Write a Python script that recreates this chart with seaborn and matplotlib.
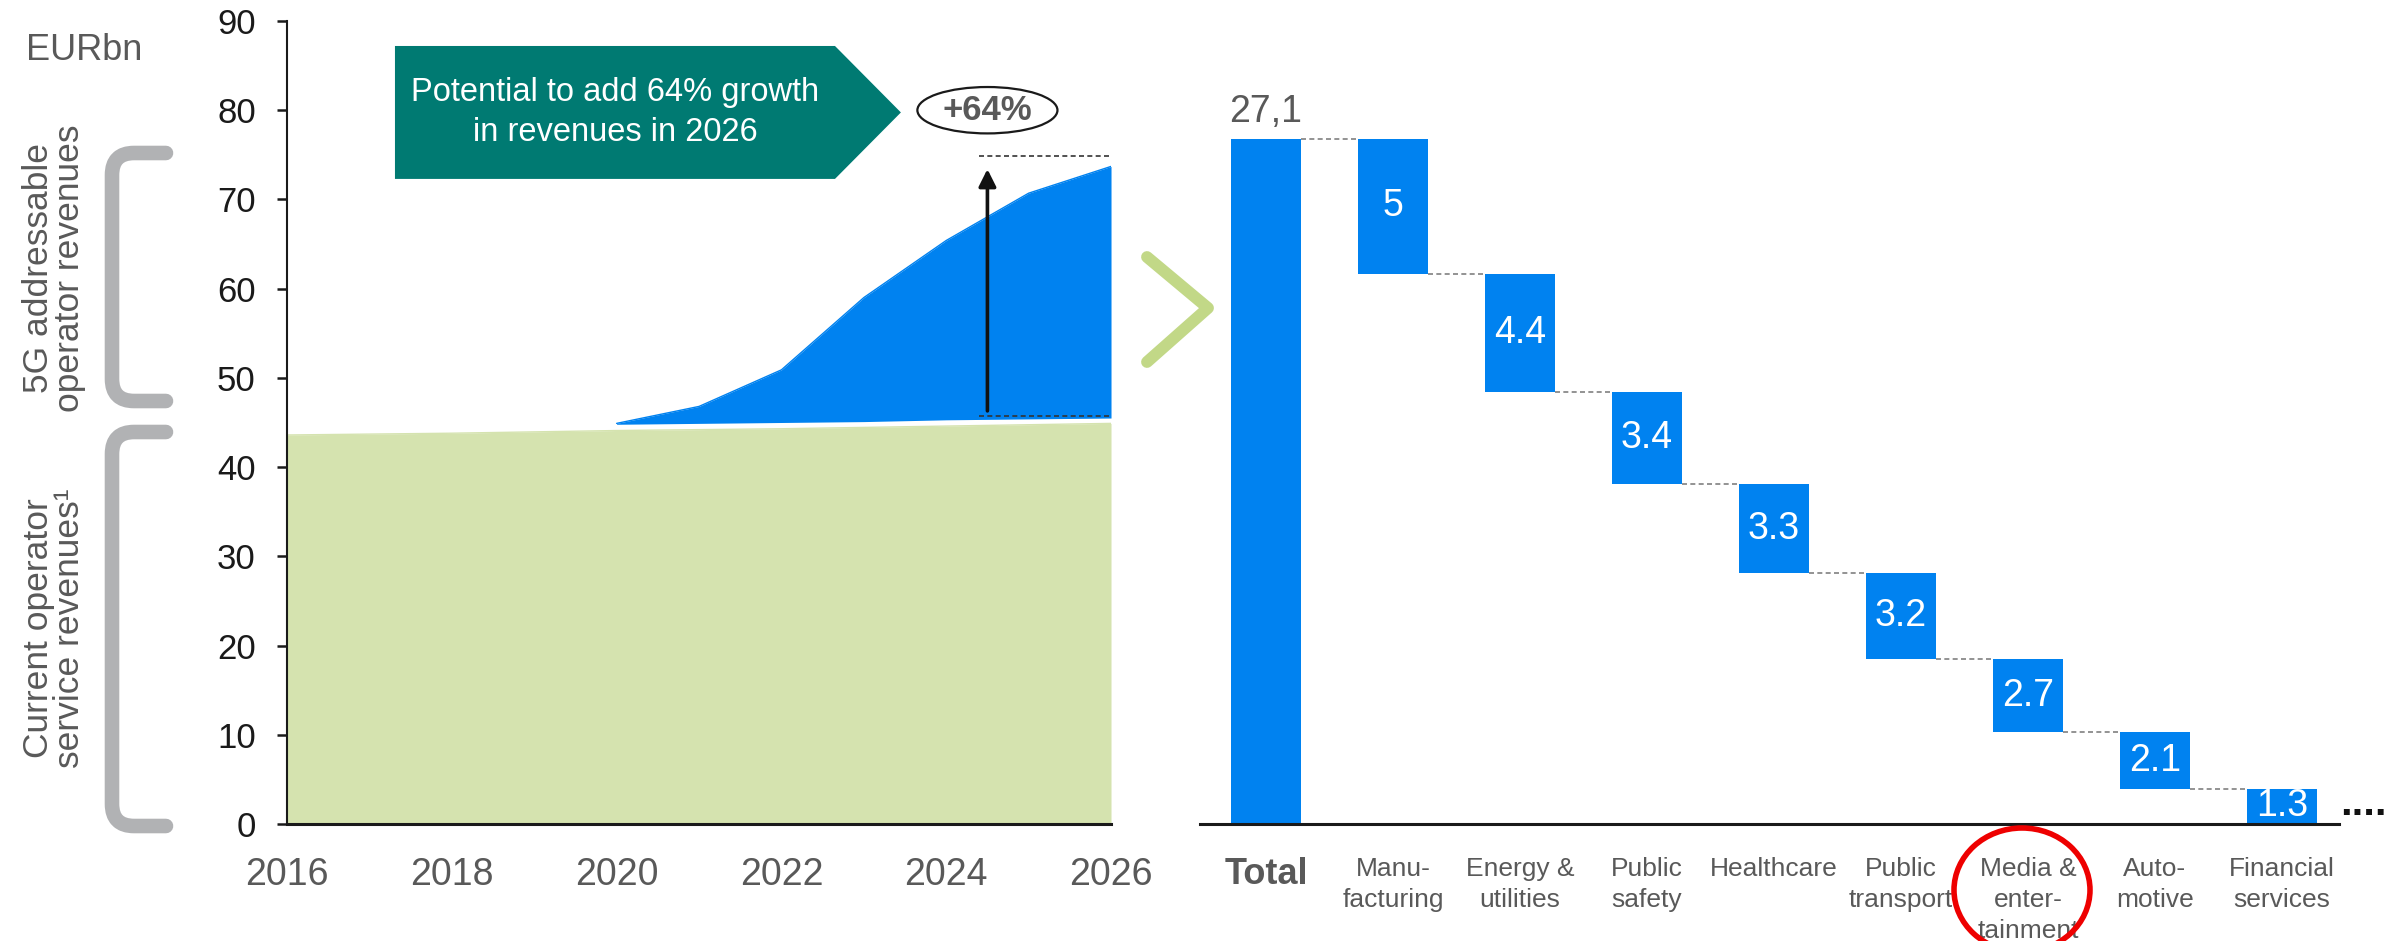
import matplotlib
matplotlib.use("Agg")
import matplotlib.pyplot as plt
import numpy as np
import pandas as pd
import seaborn as sns
from matplotlib.patches import Polygon, Ellipse, PathPatch
from matplotlib.path import Path

# ---------------- data ----------------
years = [2016, 2017, 2018, 2019, 2020, 2021, 2022, 2023, 2024, 2025, 2026]
current_revenues = [43.6, 43.7, 43.8, 43.95, 44.1, 44.2, 44.3, 44.45, 44.6, 44.75, 44.9]

g5_years = [2020, 2021, 2022, 2023, 2024, 2025, 2026]
g5_base = [44.8, 44.9, 45.0, 45.1, 45.3, 45.4, 45.5]
g5_top = [44.9, 46.8, 50.9, 59.0, 65.4, 70.7, 73.7]

year_ticks = [2016, 2018, 2020, 2022, 2024, 2026]
value_ticks = [0, 10, 20, 30, 40, 50, 60, 70, 80, 90]

categories = ["Total", "Manu-\nfacturing", "Energy &\nutilities", "Public\nsafety",
              "Healthcare", "Public\ntransport", "Media &\nenter-\ntainment",
              "Auto-\nmotive", "Financial\nservices"]
segment_values = [5, 4.4, 3.4, 3.3, 3.2, 2.7, 2.1, 1.3]
segment_labels = ["5", "4.4", "3.4", "3.3", "3.2", "2.7", "2.1", "1.3"]
total_label = "27,1"

growth_label = "+64%"
box_text = "Potential to add 64% growth\nin revenues in 2026"

# ---------------- style ----------------
BLUE = "#0082F0"
GREEN = "#D5E3AF"
TEAL = "#007A72"
GRAY_TXT = "#595959"
BRACKET = "#B1B2B4"
CHEVRON = "#C2D887"
RED = "#EE0000"

sns.set_theme(style="white")
plt.rcParams["font.family"] = ["Liberation Sans", "DejaVu Sans"]

fig = plt.figure(figsize=(24.02, 9.41), dpi=100, facecolor="white")
axl = fig.add_axes([0.11949, 0.12434, 0.34305, 0.85335])
axr = fig.add_axes([0.49958, 0.12434, 0.47419, 0.85335])

# ---------------- left area chart ----------------
axl.fill_between(years, 0, current_revenues, color=GREEN, lw=0, zorder=1)
sns.lineplot(x=years, y=current_revenues, color=GREEN, lw=1, ax=axl, zorder=1)
axl.fill_between(g5_years, g5_base, g5_top, color=BLUE, lw=0, zorder=2)
sns.lineplot(x=g5_years, y=g5_top, color=BLUE, lw=1, ax=axl, zorder=2)

axl.set_xlim(2016, 2026)
axl.set_ylim(0, 90)
axl.set_xticks(year_ticks)
axl.set_xticklabels([str(y) for y in year_ticks])
axl.set_yticks(value_ticks)
axl.set_yticklabels([str(v) for v in value_ticks])
axl.tick_params(axis="x", length=0, pad=24, labelsize=27, labelcolor=GRAY_TXT)
axl.tick_params(axis="y", length=7.5, width=1.8, direction="out", pad=15,
                labelsize=25, labelcolor="#1a1a1a", color="#1a1a1a", left=True)
for s in ["top", "right"]:
    axl.spines[s].set_visible(False)
axl.spines["left"].set_linewidth(1.5)
axl.spines["left"].set_color("#1a1a1a")
axl.spines["bottom"].set_linewidth(2.2)
axl.spines["bottom"].set_color("#1a1a1a")
axl.set_xlabel("")
axl.set_ylabel("")
axl.grid(False)

# teal call-out pentagon
bx0, bx1, btip = 2017.31, 2022.65, 2023.45
by0, by1 = 72.3, 87.2
bym = (by0 + by1) / 2
axl.add_patch(Polygon([(bx0, by1), (bx1, by1), (btip, bym), (bx1, by0), (bx0, by0)],
                      closed=True, fc=TEAL, ec="none", zorder=4, clip_on=False))
axl.text((bx0 + bx1) / 2, bym, box_text, color="white", fontsize=23.5, ha="center",
         va="center", linespacing=1.35, zorder=5)

# +64% ellipse
axl.add_patch(Ellipse((2024.5, 80.0), 1.7, 5.2, fc="white", ec="#1a1a1a", lw=1.6,
                      zorder=4, clip_on=False))
axl.text(2024.5, 80.0, growth_label, fontsize=25, fontweight="bold", color=GRAY_TXT,
         ha="center", va="center", zorder=5)

# growth arrow and dashed reference lines
axl.annotate("", xy=(2024.5, 73.4), xytext=(2024.5, 46.3),
             arrowprops=dict(arrowstyle="-|>", lw=2.6, color="#111111",
                             mutation_scale=26, shrinkA=0, shrinkB=0), zorder=6)
axl.plot([2024.4, 2026], [74.9, 74.9], color="#333333", lw=1.2, ls=(0, (3, 2)),
         zorder=6, clip_on=False)
axl.plot([2024.4, 2026], [45.7, 45.7], color="#333333", lw=1.2, ls=(0, (3, 2)),
         zorder=6, clip_on=False)

# ---------------- right waterfall ----------------
total_height = sum(segment_values)
heights = [total_height] + segment_values
bottoms = [0.0]
level = total_height
for v in segment_values:
    bottoms.append(level - v)
    level -= v

df = pd.DataFrame({"category": categories, "height": heights})
sns.barplot(data=df, x="category", y="height", color=BLUE, saturation=1, width=0.55,
            linewidth=0, ax=axr, zorder=2)
bar_w = 0.55
for patch, b in zip(axr.patches, bottoms):
    patch.set_y(b)

axr.set_xlim(-0.52, 8.45)
axr.set_ylim(0, 29.77)

# connectors
for i in range(len(heights) - 1):
    y_lvl = bottoms[i + 1] + heights[i + 1]
    axr.plot([i + bar_w / 2, i + 1 - bar_w / 2], [y_lvl, y_lvl], color="#808080",
             lw=1.2, ls=(0, (3, 2)), zorder=1)

# values
for i, (lab, h, b) in enumerate(zip(segment_labels, segment_values, bottoms[1:])):
    axr.text(i + 1, b + h / 2, lab, color="white", fontsize=27, ha="center",
             va="center", zorder=3)
axr.text(0, total_height + 1.0, total_label, color=GRAY_TXT, fontsize=27,
         ha="center", va="center")
axr.text(8 + bar_w / 2 + 0.18, 0.33, "....", color="#111111", fontsize=30,
         fontweight="bold", ha="left", va="baseline", clip_on=False)

axr.set_xticks(range(len(categories)))
axr.set_xticklabels(categories)
axr.tick_params(axis="x", length=0, pad=24, labelsize=19, labelcolor=GRAY_TXT)
axr.tick_params(axis="y", left=False, labelleft=False)
for lab in axr.get_xticklabels():
    lab.set_linespacing(1.35)
first = axr.get_xticklabels()[0]
first.set_fontweight("bold")
first.set_fontsize(26)
for s in ["top", "right", "left"]:
    axr.spines[s].set_visible(False)
axr.spines["bottom"].set_linewidth(2.2)
axr.spines["bottom"].set_color("#1a1a1a")
axr.set_xlabel("")
axr.set_ylabel("")
axr.grid(False)

# ---------------- overlay decorations (pixel space) ----------------
ov = fig.add_axes([0, 0, 1, 1])
ov.set_xlim(0, 2402)
ov.set_ylim(941, 0)
ov.axis("off")
ov.patch.set_alpha(0)
ov.set_zorder(10)


def bracket(ytop, ybot, x=112, xend=166, r=22):
    verts = [(xend, ytop), (x + r, ytop), (x, ytop), (x, ytop + r),
             (x, ybot - r), (x, ybot), (x + r, ybot), (xend, ybot)]
    codes = [Path.MOVETO, Path.LINETO, Path.CURVE3, Path.CURVE3,
             Path.LINETO, Path.CURVE3, Path.CURVE3, Path.LINETO]
    ov.add_patch(PathPatch(Path(verts, codes), fc="none", ec=BRACKET, lw=10.5,
                           capstyle="round", joinstyle="round"))


bracket(153, 401)
bracket(432, 826)

ov.plot([1147, 1208, 1147], [257, 308, 362], color=CHEVRON, lw=8.5,
        solid_capstyle="round", solid_joinstyle="round")

ov.add_patch(Ellipse((2022, 890), 136, 124, fc="none", ec=RED, lw=4))

ov.text(84, 50, "EURbn", fontsize=26, color=GRAY_TXT, ha="center", va="center")
ov.text(54, 268, "5G addressable\noperator revenues", fontsize=25.5, color=GRAY_TXT,
        rotation=90, ha="center", va="center", linespacing=0.95, multialignment="center")
ov.text(54, 628, "Current operator\nservice revenues\u00b9", fontsize=25.5, color=GRAY_TXT,
        rotation=90, ha="center", va="center", linespacing=0.95, multialignment="center")

fig.savefig("out.png", dpi=100, facecolor="white")
